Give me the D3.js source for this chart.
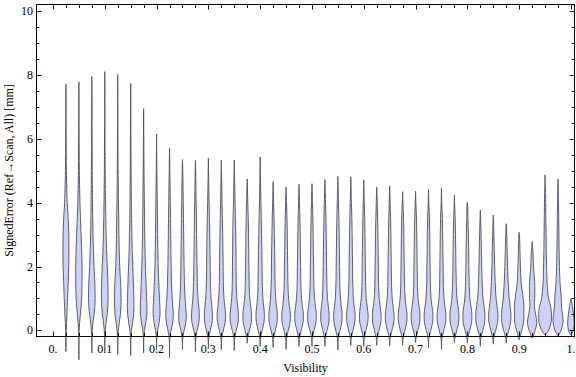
<!DOCTYPE html>
<html>
<head>
<meta charset="utf-8">
<script src="https://cdn.jsdelivr.net/npm/d3@7"></script>
<style>
  html, body { margin: 0; padding: 0; background: #fff; }
  svg { display: block; }
  text { font-family: "Liberation Serif", "Times New Roman", serif; fill: #000; }
</style>
</head>
<body>
<svg id="chart" width="576" height="377"></svg>
<script>
// ---------------- data ----------------
const visibility = [0.025,0.05,0.075,0.1,0.125,0.15,0.175,0.2,0.225,0.25,
                    0.275,0.3,0.325,0.35,0.375,0.4,0.425,0.45,0.475,0.5,
                    0.525,0.55,0.575,0.6,0.625,0.65,0.675,0.7,0.725,0.75,
                    0.775,0.8,0.825,0.85,0.875,0.9,0.925,0.95,0.975,1.0];

const errMin = [-0.66,-0.92,-0.71,-0.66,-0.75,-0.78,-0.71,-0.60,-0.85,-0.60,
                -0.66,-0.57,-0.61,-0.63,-0.40,-0.50,-0.53,-0.59,-0.50,-0.50,
                -0.50,-0.61,-0.47,-0.50,-0.47,-0.48,-0.47,-0.38,-0.55,-0.59,
                -0.38,-0.40,-0.50,-0.43,-0.40,-0.29,-0.24,-0.14,-0.17,-0.14];

const errMax = [7.70,7.78,7.95,8.10,8.01,7.73,6.94,6.15,5.71,5.35,
                5.32,5.40,5.33,5.33,4.74,5.43,4.66,4.49,4.57,4.59,
                4.72,4.82,4.81,4.71,4.49,4.52,4.34,4.36,4.41,4.45,
                4.24,4.01,3.76,3.61,3.34,3.07,2.78,4.87,4.74,1.00];

// density estimate levels (mm) and density values read per violin
const levels = [-0.25,0,0.25,0.5,0.75,1,1.5,2,2.5,3,3.5,4,5];
const density = [
  [.02,.05,.10,.17,.22,.28,.38,.47,.50,.48,.38,.22,.08],
  [.02,.05,.13,.25,.37,.45,.53,.53,.47,.37,.27,.18,.08],
  [.02,.07,.20,.37,.50,.55,.50,.37,.27,.20,.15,.12,.07],
  [.02,.08,.23,.40,.50,.55,.52,.42,.30,.22,.17,.13,.07],
  [.02,.10,.27,.45,.53,.55,.47,.33,.25,.20,.17,.13,.07],
  [.03,.12,.33,.50,.55,.53,.45,.35,.25,.20,.15,.12,.07],
  [.03,.13,.37,.53,.55,.50,.40,.30,.23,.18,.15,.12,.07],
  [.03,.17,.43,.57,.55,.48,.37,.27,.22,.18,.15,.12,.05],
  [.05,.25,.53,.62,.55,.45,.33,.27,.23,.20,.17,.13,.05],
  [.05,.27,.57,.63,.53,.43,.32,.27,.23,.20,.17,.13,.05],
  [.05,.28,.58,.65,.55,.43,.32,.27,.23,.20,.17,.12,.04],
  [.06,.32,.62,.68,.57,.45,.33,.30,.27,.23,.18,.12,.03],
  [.06,.33,.63,.70,.58,.45,.33,.30,.27,.23,.18,.12,.03],
  [.06,.33,.65,.70,.57,.43,.33,.30,.28,.25,.20,.13,.03],
  [.07,.35,.67,.72,.58,.43,.32,.28,.25,.22,.17,.10,.00],
  [.06,.33,.63,.70,.58,.45,.35,.32,.28,.23,.18,.12,.03],
  [.07,.35,.65,.70,.57,.43,.32,.28,.25,.20,.15,.08,.00],
  [.07,.35,.67,.72,.57,.42,.30,.27,.23,.20,.15,.08,.00],
  [.07,.35,.67,.72,.57,.42,.30,.27,.23,.20,.15,.08,.00],
  [.07,.35,.67,.72,.57,.42,.30,.27,.23,.20,.15,.08,.00],
  [.07,.35,.65,.70,.57,.43,.32,.28,.25,.22,.17,.10,.00],
  [.07,.35,.65,.70,.57,.43,.32,.28,.25,.22,.17,.10,.00],
  [.07,.35,.65,.70,.57,.43,.32,.28,.25,.22,.17,.10,.00],
  [.07,.35,.67,.72,.57,.42,.30,.27,.23,.20,.15,.08,.00],
  [.07,.37,.68,.72,.57,.42,.30,.27,.23,.20,.15,.08,.00],
  [.07,.37,.68,.72,.57,.42,.30,.27,.23,.20,.15,.08,.00],
  [.07,.37,.68,.73,.58,.42,.30,.27,.23,.20,.15,.05,.00],
  [.07,.37,.68,.73,.58,.42,.30,.27,.23,.20,.15,.05,.00],
  [.07,.37,.68,.73,.58,.42,.30,.27,.23,.20,.15,.05,.00],
  [.07,.37,.68,.73,.58,.42,.30,.27,.23,.20,.15,.05,.00],
  [.07,.38,.70,.75,.60,.43,.30,.25,.22,.18,.12,.03,.00],
  [.07,.38,.70,.75,.60,.43,.30,.25,.22,.17,.10,.03,.00],
  [.07,.40,.72,.77,.62,.45,.30,.23,.18,.12,.05,.00,.00],
  [.07,.40,.72,.78,.63,.47,.32,.23,.17,.10,.03,.00,.00],
  [.07,.42,.73,.78,.65,.50,.33,.22,.15,.08,.00,.00,.00],
  [.07,.42,.75,.77,.80,.67,.33,.20,.13,.05,.00,.00,.00],
  [.07,.50,.78,.58,.37,.42,.43,.22,.12,.00,.00,.00,.00],
  [.05,.58,1.0,1.08,.92,.58,.33,.25,.20,.17,.13,.10,.03],
  [.05,.50,.83,.75,.58,.55,.33,.23,.18,.15,.12,.08,.03],
  [.05,.42,.55,.42,.25,.10,.00,.00,.00,.00,.00,.00,.00]
];

const xMajorTicks = [0,0.1,0.2,0.3,0.4,0.5,0.6,0.7,0.8,0.9,1.0];
const xTickLabels = ["0.","0.1","0.2","0.3","0.4","0.5","0.6","0.7","0.8","0.9","1."];
const yMajorTicks = [0,2,4,6,8,10];
const yTickLabels = ["0","2","4","6","8","10"];
const xMinorStep = 0.025;
const yMinorStep = 0.5;
const xRange = [-0.0318, 1.0068];
const yRange = [-0.19, 10.2];

// ---------------- layout ----------------
const svg = d3.select("#chart");
const L = 36.5, R = 574.5, T = 4.5, B = 336.5;

const x = d3.scaleLinear().domain(xRange).range([L, R]);
const y = d3.scaleLinear().domain(yRange).range([B, T]);
const w = d3.scaleLinear().domain([0, 1]).range([0, 6]);

// violins
const area = d3.area()
  .y(d => y(d.v))
  .x0(d => d.cx - w(d.d))
  .x1(d => d.cx + w(d.d))
  .curve(d3.curveCatmullRom.alpha(0.5));

const violins = visibility.map((vis, i) => {
  const cx = x(vis);
  const pts = [{v: errMin[i], d: 0, cx}];
  levels.forEach((lv, j) => {
    if (lv > errMin[i] && lv < errMax[i]) pts.push({v: lv, d: density[i][j], cx});
  });
  pts.push({v: errMax[i], d: 0, cx});
  return pts;
});

svg.append("g").selectAll("path")
  .data(violins)
  .join("path")
  .attr("d", area)
  .attr("fill", "rgb(204,210,247)")
  .attr("stroke", "#4d4d57")
  .attr("stroke-width", 0.9)
  .attr("stroke-linejoin", "round");

// frame
const frame = svg.append("g").attr("stroke", "#000").attr("fill", "none").attr("stroke-width", 1);
frame.append("rect").attr("x", L).attr("y", T).attr("width", R - L).attr("height", B - T);

// ticks
const xMinor = d3.range(0, 1.0001, xMinorStep).map(v => +v.toFixed(3));
const yMinor = d3.range(0, 10.0001, yMinorStep);
const isMajor = (v, arr) => arr.some(m => Math.abs(m - v) < 1e-6);
const tk = svg.append("g").attr("stroke", "#000").attr("stroke-width", 0.9);
xMinor.forEach(v => {
  const len = isMajor(v, xMajorTicks) ? 5 : 3.5;
  const px = Math.round(x(v)) + 0.5;
  tk.append("line").attr("x1", px).attr("x2", px).attr("y1", B).attr("y2", B - len);
  tk.append("line").attr("x1", px).attr("x2", px).attr("y1", T).attr("y2", T + len);
});
yMinor.forEach(v => {
  const len = isMajor(v, yMajorTicks) ? 5 : 3;
  const py = Math.round(y(v)) + 0.5;
  tk.append("line").attr("x1", L).attr("x2", L + len).attr("y1", py).attr("y2", py);
  tk.append("line").attr("x1", R).attr("x2", R - len).attr("y1", py).attr("y2", py);
});

// tick labels
svg.append("g").selectAll("text")
  .data(xMajorTicks)
  .join("text")
  .attr("x", d => x(d))
  .attr("y", 353)
  .attr("text-anchor", "middle")
  .attr("font-size", 12)
  .text((d, i) => xTickLabels[i]);

svg.append("g").selectAll("text")
  .data(yMajorTicks)
  .join("text")
  .attr("x", 33)
  .attr("y", d => y(d) + 4)
  .attr("text-anchor", "end")
  .attr("font-size", 12)
  .text((d, i) => yTickLabels[i]);

// axis labels
svg.append("text")
  .attr("x", (L + R) / 2)
  .attr("y", 372)
  .attr("text-anchor", "middle")
  .attr("font-size", 12)
  .text("Visibility");

svg.append("text")
  .attr("transform", `translate(13,${(T + B) / 2}) rotate(-90)`)
  .attr("text-anchor", "middle")
  .attr("font-size", 12)
  .text("SignedError (Ref→Scan, All) [mm]");
</script>
</body>
</html>
